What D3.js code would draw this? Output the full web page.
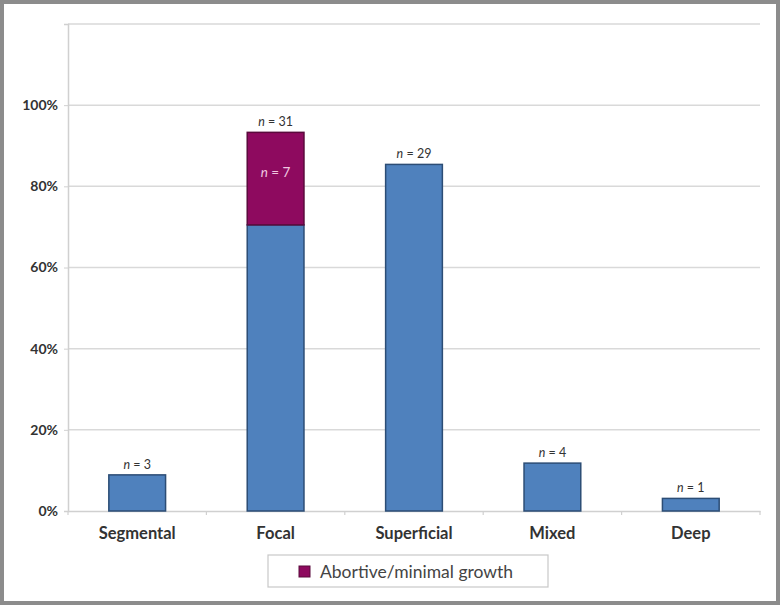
<!DOCTYPE html>
<html><head><meta charset="utf-8">
<script src="https://cdn.jsdelivr.net/npm/d3@7"></script>
<style>body{margin:0;background:#fff}svg{display:block}</style>
</head><body>
<script>
const categories = ["Segmental","Focal","Superficial","Mixed","Deep"];
const baseValues = [8.9, 70.5, 85.4, 11.8, 3.1];
const abortiveValues = [0, 22.8, 0, 0, 0];
const totalLabels = ["3","31","29","4","1"];
const abortiveLabels = ["","7","","",""];
const yTicks = [0,20,40,60,80,100,120];
const yTickLabels = ["0%","20%","40%","60%","80%","100%",""];

const W=780,H=605;
const svg=d3.select("body").append("svg").attr("width",W).attr("height",H);
svg.append("rect").attr("x",2).attr("y",2).attr("width",W-4).attr("height",H-4)
  .attr("fill","#fff").attr("stroke","#8c8c8c").attr("stroke-width",4);

const m={l:68,r:760,t:24,b:511};
const x=d3.scaleBand().domain(categories).range([m.l,m.r]).paddingInner(0.59).paddingOuter(0.295);
const y=d3.scaleLinear().domain([0,120]).range([m.b,m.t]);
const font="Lato, 'Open Sans', sans-serif";

// grid
svg.append("g").selectAll("line").data(yTicks.slice(1)).join("line")
  .attr("x1",m.l).attr("x2",m.r).attr("y1",d=>y(d)).attr("y2",d=>y(d))
  .attr("stroke","#d9d9d9").attr("stroke-width",1.5);

// y axis
const ya=svg.append("g").attr("transform",`translate(${m.l},0)`)
  .call(d3.axisLeft(y).tickValues(yTicks).tickFormat((d,i)=>yTickLabels[i]).tickSize(4).tickPadding(6));
ya.select(".domain").attr("stroke","#d0d0d0").attr("stroke-width",1.5);
ya.selectAll(".tick line").attr("stroke","#d0d0d0");
ya.selectAll("text").attr("font-family",font).attr("font-weight","bold").attr("font-size",14).attr("fill","#333");

// x axis
const xa=svg.append("g").attr("transform",`translate(0,${m.b})`)
  .call(d3.axisBottom(x).tickSize(0).tickPadding(16));
xa.select(".domain").attr("stroke","#d0d0d0").attr("stroke-width",1.5);
xa.selectAll("text").attr("font-family",font).attr("font-weight","bold").attr("font-size",16.5).attr("fill","#333");
const step=(m.r-m.l)/categories.length;
svg.append("g").selectAll("line").data(d3.range(categories.length+1)).join("line")
  .attr("x1",i=>m.l+i*step).attr("x2",i=>m.l+i*step).attr("y1",m.b).attr("y2",m.b+4)
  .attr("stroke","#d0d0d0").attr("stroke-width",1.2);

// bars
const data=categories.map((c,i)=>({c,b:baseValues[i],a:abortiveValues[i],n:totalLabels[i],na:abortiveLabels[i]}));
svg.append("g").selectAll("rect").data(data).join("rect")
  .attr("x",d=>x(d.c)).attr("width",x.bandwidth())
  .attr("y",d=>y(d.b)).attr("height",d=>y(0)-y(d.b))
  .attr("fill","#4f81bd").attr("stroke","#2c4d75").attr("stroke-width",1.5);
svg.append("g").selectAll("rect").data(data.filter(d=>d.a>0)).join("rect")
  .attr("x",d=>x(d.c)).attr("width",x.bandwidth())
  .attr("y",d=>y(d.b+d.a)).attr("height",d=>y(d.b)-y(d.b+d.a))
  .attr("fill","#8e0a5f").attr("stroke","#5a0a3c").attr("stroke-width",1.5);

// labels
const lbl=svg.append("g").selectAll("text").data(data).join("text")
  .attr("x",d=>x(d.c)+x.bandwidth()/2).attr("y",d=>y(d.b+d.a)-6)
  .attr("text-anchor","middle").attr("font-family",font).attr("font-size",12.5).attr("fill","#333");
lbl.append("tspan").attr("font-style","italic").text("n");
lbl.append("tspan").text(d=>" = "+d.n);

const al=svg.append("g").selectAll("text").data(data.filter(d=>d.na)).join("text")
  .attr("x",d=>x(d.c)+x.bandwidth()/2).attr("y",d=>y(d.b+d.a)+45)
  .attr("text-anchor","middle").attr("font-family",font).attr("font-size",13.5).attr("fill","#f0c8e0");
al.append("tspan").attr("font-style","italic").text("n");
al.append("tspan").text(d=>" = "+d.na);

// legend
const lg=svg.append("g");
lg.append("rect").attr("x",268).attr("y",555).attr("width",280).attr("height",32)
  .attr("fill","#fff").attr("stroke","#c8c8c8").attr("stroke-width",1.2);
lg.append("rect").attr("x",299).attr("y",566).attr("width",11).attr("height",11)
  .attr("fill","#8e0a5f").attr("stroke","#5a0a3c");
lg.append("text").attr("x",320).attr("y",578).attr("font-family",font).attr("font-size",17.5).attr("fill","#444")
  .text("Abortive/minimal growth");
</script>
</body></html>
